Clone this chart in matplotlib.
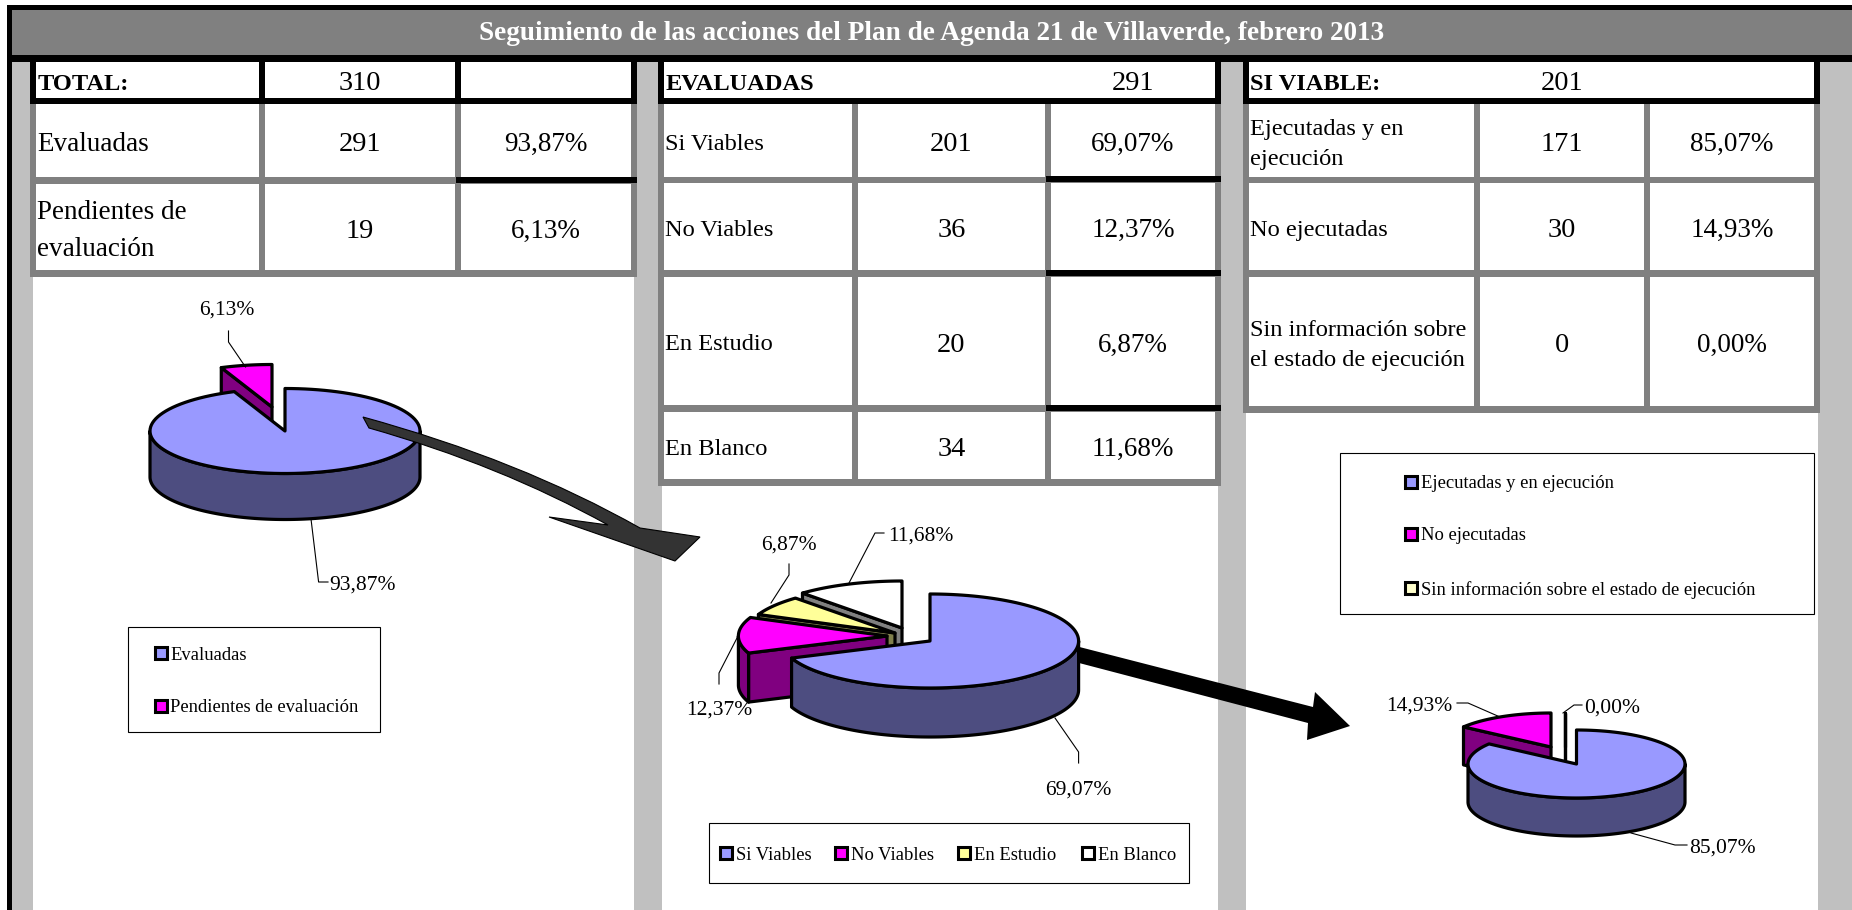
import numpy as np
import matplotlib
matplotlib.use('Agg')
import matplotlib.pyplot as plt
from matplotlib.patches import Rectangle, Polygon, PathPatch
from matplotlib.path import Path

plt.rcParams['font.family'] = ['Liberation Serif', 'DejaVu Serif']

title = 'Seguimiento de las acciones del Plan de Agenda 21 de Villaverde, febrero 2013'

#table 1
t1_head = ['TOTAL:', '310']
t1_labels = ['Evaluadas', 'Pendientes de\nevaluación']
t1_counts = [291, 19]
t1_pct = [93.87, 6.13]

#table 2
t2_head = ['EVALUADAS', '291']
t2_labels = ['Si Viables', 'No Viables', 'En Estudio', 'En Blanco']
t2_counts = [201, 36, 20, 34]
t2_pct = [69.07, 12.37, 6.87, 11.68]

#table 3
t3_head = ['SI VIABLE:', '201']
t3_labels = ['Ejecutadas y en\nejecución', 'No ejecutadas', 'Sin información sobre\nel estado de ejecución']
t3_counts = [171, 30, 0]
t3_pct = [85.07, 14.93, 0.00]

#legend names
leg1 = ['Evaluadas', 'Pendientes de evaluación']
leg2 = ['Si Viables', 'No Viables', 'En Estudio', 'En Blanco']
leg3 = ['Ejecutadas y en ejecución', 'No ejecutadas', 'Sin información sobre el estado de ejecución']

BLUE = '#9999FF'
MAG = '#FF00FF'
YEL = '#FFFF99'
PALE = '#FFFFCC'
WHT = '#FFFFFF'
DARK = {BLUE: '#4D4D80', MAG: '#800080', YEL: '#80804D', PALE: '#808066', WHT: '#808080'}
GRAY = '#808080'
SIDE = '#C0C0C0'

fig = plt.figure(figsize=(18.52, 9.10), dpi=100)
ax = fig.add_axes([0, 0, 1, 1])
ax.set_xlim(0, 1852)
ax.set_ylim(910, 0)
ax.axis('off')


def box(x0, y0, x1, y1, col, z=1):
  ax.add_patch(Rectangle((x0, y0), x1-x0, y1-y0, fc=col, ec='none', lw=0, zorder=z))


def fmt(p):
  return ('%.2f%%' % p).replace('.', ',')


#one 3d slice, angles clockwise from 12 o'clock
def slice3d(cx, cy, rx, ry, dep, a0, a1, col, off=(0, 0), z=3):
  cx = cx + off[0]
  cy = cy + off[1]
  t = np.radians(np.linspace(a0, a1, 120))
  xs = cx + rx*np.sin(t)
  ys = cy - ry*np.cos(t)
  kw = dict(ec='black', lw=2.3, joinstyle='round', zorder=z)
  #the two cut faces, only when turned to the viewer
  if np.sin(t[0]) < 0:
    face = [(cx, cy), (xs[0], ys[0]), (xs[0], ys[0]+dep), (cx, cy+dep)]
    ax.add_patch(Polygon(face, fc=DARK[col], **kw))
  if np.sin(t[-1]) > 0:
    face = [(cx, cy), (xs[-1], ys[-1]), (xs[-1], ys[-1]+dep), (cx, cy+dep)]
    ax.add_patch(Polygon(face, fc=DARK[col], **kw))
  #only the front half of the rim shows a wall
  w0 = max(a0, 90)
  w1 = min(a1, 270)
  if w1 > w0:
    tw = np.radians(np.linspace(w0, w1, 120))
    wx = cx + rx*np.sin(tw)
    wy = cy - ry*np.cos(tw)
    wall = np.r_[np.c_[wx, wy], np.c_[wx, wy+dep][::-1]]
    ax.add_patch(Polygon(wall, fc=DARK[col], **kw))
  top = np.r_[[[cx, cy]], np.c_[xs, ys]]
  ax.add_patch(Polygon(top, fc=col, **kw))


def pie3d(cx, cy, rx, ry, dep, pct, cols, offs, order):
  vals = np.array(pct, dtype=float)
  edges = np.r_[0, np.cumsum(vals)]*360.0/vals.sum()
  for n, i in enumerate(order):
    slice3d(cx, cy, rx, ry, dep, edges[i], edges[i+1], cols[i], offs[i], z=3+n*0.1)


def leader(pts, z=5):
  ax.plot([p[0] for p in pts], [p[1] for p in pts], color='black', lw=0.8, zorder=z)


def swatch(x, y, col):
  ax.add_patch(Rectangle((x, y-6), 12, 12, fc=col, ec='black', lw=2.2, zorder=6))


def cell_text(x, y, s, ha='center', size=19.5, weight='normal'):
  ax.text(x, y+4, s, ha=ha, va='center', fontsize=size, fontweight=weight, color='black',
          linespacing=1.6, zorder=7)


def pie_text(x, y, s, ha='center'):
  ax.text(x, y+3, s, ha=ha, va='center', fontsize=15.5, zorder=7)


def table(xs, ys, labels, counts, pct, lab_size, black=True):
  #xs = outer left, cell edges..., outer right ; ys = row limits
  x0, c0a, c0b, c1a, c1b, c2a, c2b, x1 = xs
  box(x0, 62, x1, ys[-1][1]+7, GRAY)
  box(x0, 62, x1, 104, 'black')
  box(x0, 55, x1, 62, 'black')
  for k, (ya, yb) in enumerate(ys):
    box(c0a, ya, c0b, yb, 'white', 2)
    box(c1a, ya, c1b, yb, 'white', 2)
    box(c2a, ya, c2b, yb, 'white', 2)
    if k > 0 and black:
      box(c2a-5, ya-7, x1, ya-1, 'black', 2)
    cell_text(c0a+1, (ya+yb)/2, labels[k], ha='left', size=lab_size)
    cell_text((c1a+c1b)/2, (ya+yb)/2, str(counts[k]), size=20.5)
    cell_text((c2a+c2b)/2, (ya+yb)/2, fmt(pct[k]))


#background
box(0, 0, 1852, 910, 'white', 0)
box(12, 62, 1852, 910, SIDE, 0.5)
for a, b in [(33, 634), (662, 1218), (1246, 1818)]:
  box(a, 62, b, 910, 'white', 0.6)
box(7, 5, 12, 910, 'black', 1)
box(7, 5, 1852, 10, 'black', 1)
box(12, 10, 1852, 55, GRAY, 1)
box(12, 55, 1852, 62, 'black', 1)
ax.text(932, 34, title, ha='center', va='center', fontsize=19.6, fontweight='bold', color='white', zorder=7)

#tables
tx1 = [30, 36, 259, 265, 455, 461, 631, 637]
table(tx1, [(104, 177), (184, 270)], t1_labels, t1_counts, t1_pct, 19.5)
box(36, 62, 259, 98, 'white', 2)
box(265, 62, 455, 98, 'white', 2)
box(461, 62, 631, 98, 'white', 2)
cell_text(38, 80, t1_head[0], ha='left', weight='bold', size=17.6)
cell_text(360, 80, t1_head[1], size=20.5)

tx2 = [658, 664, 852, 858, 1045, 1051, 1215, 1221]
table(tx2, [(104, 177), (183, 270), (277, 405), (412, 479)], t2_labels, t2_counts, t2_pct, 17.6)
box(664, 62, 1215, 98, 'white', 2)
cell_text(666, 80, t2_head[0], ha='left', weight='bold', size=17.6)
cell_text(1133, 80, t2_head[1], size=20.5)

tx3 = [1243, 1249, 1474, 1480, 1644, 1650, 1814, 1820]
table(tx3, [(104, 177), (183, 270), (277, 406)], t3_labels, t3_counts, t3_pct, 17.6, black=False)
box(1249, 62, 1814, 98, 'white', 2)
cell_text(1250, 80, t3_head[0], ha='left', weight='bold', size=17.6)
cell_text(1562, 80, t3_head[1], size=20.5)

#pies
pie3d(285, 431, 135, 42.5, 46, t1_pct, [BLUE, MAG], [(0, 0), (-13, -24)], [1, 0])
pie3d(930, 641, 148.6, 47, 49, t2_pct, [BLUE, MAG, YEL, WHT],
      [(0, 0), (-43, -5), (-35, -8), (-28, -13)], [3, 2, 1, 0])
pie3d(1576.5, 764, 108.5, 34, 38, t3_pct, [BLUE, MAG, PALE],
      [(0, 0), (-25.5, -17), (-12, -17)], [2, 1, 0])

#curved dark arrow
arrow_pts = [(363, 417), (520, 460), (640, 528), (700, 537), (675, 561), (549, 517), (608, 525),
             (500, 465), (369, 428), (363, 417)]
arrow_code = [Path.MOVETO, Path.CURVE3, Path.CURVE3, Path.LINETO, Path.LINETO, Path.LINETO, Path.LINETO,
              Path.CURVE3, Path.CURVE3, Path.CLOSEPOLY]
ax.add_patch(PathPatch(Path(arrow_pts, arrow_code), fc='#333333', ec='black', lw=0.8, zorder=4))

#straight black arrow, goes behind pie 2
ax.add_patch(Polygon([(1060, 642), (1313, 707), (1315, 692), (1350, 726), (1307, 740), (1308, 723), (1060, 658)],
                     fc='black', ec='none', zorder=2.5))

#pie labels and leader lines
leader([(228.5, 331), (228.5, 342), (245.5, 367)])
pie_text(227, 307, fmt(t1_pct[1]))
leader([(311, 519), (318.6, 582), (328, 582)])
pie_text(329, 582, fmt(t1_pct[0]), ha='left')

leader([(789, 564), (789, 575), (771, 603)])
pie_text(788.6, 542, fmt(t2_pct[2]))
leader([(884, 533), (875, 533), (849, 583)])
pie_text(888, 533, fmt(t2_pct[3]), ha='left')
leader([(719, 684), (719, 673), (737, 638)])
pie_text(719, 707, fmt(t2_pct[1]))
leader([(1055, 718), (1078.6, 752), (1078.6, 763)])
pie_text(1078, 787, fmt(t2_pct[0]))

leader([(1457, 703), (1468, 703), (1500, 717)])
pie_text(1452, 703, fmt(t3_pct[1]), ha='right')
leader([(1582, 705), (1574, 705), (1563, 713)])
pie_text(1584, 705, fmt(t3_pct[2]), ha='left')
leader([(1631, 833), (1675, 845), (1687, 845)])
pie_text(1689, 845, fmt(t3_pct[0]), ha='left')

#legends
for bx in [(128, 627, 380, 732), (709, 823, 1189, 883), (1340, 453, 1814, 614)]:
  ax.add_patch(Rectangle((bx[0], bx[1]), bx[2]-bx[0], bx[3]-bx[1], fc='white', ec='black', lw=0.8, zorder=3))

for name, col, y in zip(leg1, [BLUE, MAG], [653, 706]):
  swatch(155, y, col)
  ax.text(170, y+2, name, ha='left', va='center', fontsize=13.4, zorder=7)
for name, col, x in zip(leg2, [BLUE, MAG, YEL, WHT], [720, 835, 958, 1082]):
  swatch(x, 853, col)
  ax.text(x+16, 855, name, ha='left', va='center', fontsize=13.4, zorder=7)
for name, col, y in zip(leg3, [BLUE, MAG, PALE], [482, 534, 588]):
  swatch(1405, y, col)
  ax.text(1421, y+2, name, ha='left', va='center', fontsize=13.4, zorder=7)

plt.savefig('out.png', dpi=100)
